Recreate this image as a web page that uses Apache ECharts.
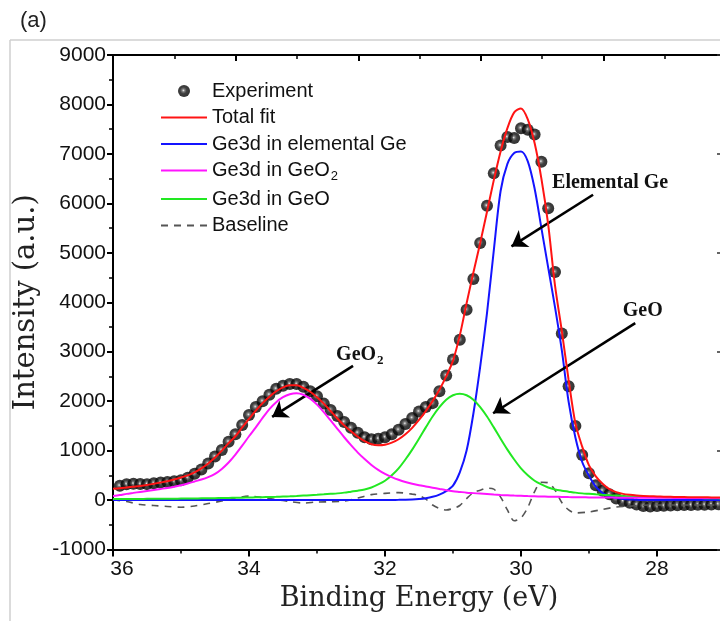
<!DOCTYPE html>
<html><head><meta charset="utf-8">
<script src="https://cdn.jsdelivr.net/npm/echarts@6.0.0/dist/echarts.min.js"></script>
<style>html,body{margin:0;padding:0;background:#fff}#c{width:720px;height:621px}</style>
</head><body><div id="c"></div>
<script>
// Binding energy grid for the fitted curves (eV)
const energy = [36.0,35.9,35.8,35.7,35.6,35.5,35.4,35.3,35.2,35.1,35.0,34.9,34.8,34.7,34.6,34.5,34.4,34.3,34.2,34.1,34.0,33.9,33.8,33.7,33.6,33.5,33.4,33.3,33.2,33.1,33.0,32.9,32.8,32.7,32.6,32.5,32.4,32.3,32.2,32.1,32.0,31.9,31.8,31.7,31.6,31.5,31.4,31.3,31.2,31.1,31.0,30.9,30.8,30.7,30.6,30.5,30.4,30.3,30.2,30.1,30.0,29.9,29.8,29.7,29.6,29.5,29.4,29.3,29.2,29.1,29.0,28.9,28.8,28.7,28.6,28.5,28.4,28.3,28.2,28.1,28.0,27.9,27.8,27.7,27.6,27.5,27.4,27.3,27.2,27.1,27.0];
const totalFit = [230,240,255,270,285,305,330,355,380,415,455,500,560,640,740,860,1000,1150,1290,1470,1640,1810,1960,2090,2200,2280,2320,2320,2270,2190,2080,1950,1800,1650,1510,1390,1280,1190,1130,1110,1120,1160,1230,1330,1460,1620,1800,2000,2230,2500,2820,3330,3980,4600,5200,5830,6470,7050,7520,7840,7920,7700,7220,6500,5570,4340,3420,2430,1550,1080,700,480,330,220,160,125,105,92,83,77,72,68,65,62,60,58,56,55,54,53,52];
const elementalGe = [0,0,0,0,0,0,0,0,0,0,0,0,0,0,0,0,0,0,0,0,0,0,0,0,0,0,0,0,0,0,0,0,0,0,0,0,0,0,0,0,0,2,4,7,12,22,38,65,110,180,290,560,1000,1750,2700,3780,5050,6250,6800,7020,7050,6850,6300,5500,4700,3900,3030,1990,1265,770,490,270,140,75,40,20,10,5,2,0,0,0,0,0,0,0,0,0,0,0,0];
const geo2 = [80,100,125,145,165,185,205,225,245,270,300,335,375,415,465,530,630,760,920,1100,1290,1470,1660,1840,1980,2080,2140,2160,2130,2050,1930,1780,1610,1440,1270,1110,960,830,710,610,530,465,410,365,330,300,275,250,225,200,180,165,150,140,130,120,110,102,96,90,85,80,76,72,69,66,63,60,58,56,54,52,51,50,49,48,47,46,46,45,45,44,44,43,43,43,42,42,42,41,41];
const geo = [20,20,21,22,23,24,25,26,27,28,29,30,32,34,36,38,40,43,46,49,52,55,58,61,65,70,75,82,90,98,106,115,125,135,150,170,190,215,255,315,390,500,640,820,1020,1240,1470,1690,1880,2030,2120,2150,2120,2030,1880,1690,1470,1240,1020,820,640,500,390,315,255,215,190,170,150,135,125,115,106,98,90,82,75,70,65,61,58,55,52,49,46,43,40,38,36,34,32];
// Experimental points
const expEnergy = [35.9,35.8,35.7,35.6,35.5,35.4,35.3,35.2,35.1,35.0,34.9,34.8,34.7,34.6,34.5,34.4,34.3,34.2,34.1,34.0,33.9,33.8,33.7,33.6,33.5,33.4,33.3,33.2,33.1,33.0,32.9,32.8,32.7,32.6,32.5,32.4,32.3,32.2,32.1,32.0,31.9,31.8,31.7,31.6,31.5,31.4,31.3,31.2,31.1,31.0,30.9,30.8,30.7,30.6,30.5,30.4,30.3,30.2,30.1,30.0,29.9,29.8,29.7,29.6,29.5,29.4,29.3,29.2,29.1,29.0,28.9,28.8,28.7,28.6,28.5,28.4,28.3,28.2,28.1,28.0,27.9,27.8,27.7,27.6,27.5,27.4,27.3,27.2,27.1];
const experiment = [290,320,330,325,322,340,355,365,380,400,450,530,620,740,880,1010,1180,1330,1520,1720,1880,2000,2130,2250,2310,2345,2345,2290,2200,2100,1950,1820,1700,1580,1460,1360,1270,1230,1240,1270,1330,1420,1540,1660,1790,1880,1960,2200,2520,2840,3240,3850,4470,5200,5950,6610,7170,7340,7320,7520,7490,7390,6840,5900,4610,3370,2300,1500,910,540,300,190,115,30,-20,-55,-90,-120,-130,-120,-115,-110,-105,-100,-100,-95,-95,-90,-85];
// Baseline (dashed)
const baseEnergy = [36.0,35.8,35.6,35.4,35.2,35.0,34.8,34.6,34.4,34.2,34.0,33.8,33.6,33.4,33.2,33.0,32.8,32.6,32.4,32.2,32.0,31.8,31.6,31.5,31.4,31.3,31.2,31.1,31.0,30.9,30.8,30.7,30.6,30.5,30.4,30.3,30.2,30.1,30.0,29.9,29.8,29.7,29.6,29.5,29.4,29.3,29.2,29.0,28.8,28.6,28.4,28.2,28.0,27.5,27.0];
const baseline = [0,-30,-90,-110,-130,-145,-120,-70,-20,40,80,50,10,-30,-60,-40,-35,-20,40,110,135,150,120,90,20,-100,-170,-200,-170,-110,30,150,200,240,220,60,-200,-420,-360,-150,170,360,350,200,-50,-200,-260,-240,-190,-140,-125,-105,-100,-100,-100];
// Names and annotations
const seriesNames = ['Experiment','Total fit','Ge3d in elemental Ge','Ge3d in GeO2','Ge3d in GeO','Baseline'];
const annotationText = ['Elemental Ge','GeO','GeO2'];
const annotationAt = [[28.69,6417],[28.21,3826],[32.37,2935]];
const arrowFrom = [[28.94,6174],[28.32,3577],[32.47,2713]];
const arrowTo = [[30.14,5128],[30.41,1755],[33.66,1680]];

const pairs = (xs, ys) => xs.map((x, i) => [x, ys[i]]);
const subFmt = s => s.replace(/O2$/, 'O{sub|2}');

const chart = echarts.init(document.getElementById('c'), null, {renderer: 'canvas'});
const axisCol = '#000';
const sphere = {type: 'radial', x: 0.45, y: 0.45, r: 0.55, colorStops: [
  {offset: 0, color: '#e8e8e8'}, {offset: 0.22, color: '#5a5a5a'}, {offset: 0.5, color: '#111'}, {offset: 1, color: '#000'}]};

const lineSeries = (name, ys, color, z, extra) => Object.assign({
  name, type: 'line', data: pairs(energy, ys), symbol: 'none', smooth: 0.3, z,
  lineStyle: {color, width: 2}, itemStyle: {color}, clip: true
}, extra || {});

chart.setOption({
  animation: false,
  backgroundColor: '#fff',
  grid: {left: 113, top: 55, right: -73, bottom: 71.5, containLabel: false, outerBoundsMode: 'none'},
  graphic: [
    {type: 'line', shape: {x1: 10, y1: 40, x2: 720, y2: 40}, style: {stroke: '#cfcfcf', lineWidth: 1.5}},
    {type: 'line', shape: {x1: 10, y1: 40, x2: 10, y2: 621}, style: {stroke: '#cfcfcf', lineWidth: 1.5}},
    {type: 'text', left: 20, top: 10, style: {text: '(a)', font: '22px "Liberation Sans"', fill: '#222'}}
  ],
  legend: {
    orient: 'vertical', left: 160, top: 81, padding: 0, itemWidth: 46, itemHeight: 12, itemGap: 6.5,
    data: seriesNames.map(n => n === 'Experiment' ? {name: n, icon: 'circle'} : {name: n, itemStyle: {opacity: 0}}),
    formatter: subFmt,
    textStyle: {fontFamily: 'Liberation Sans', fontSize: 20, color: '#111', lineHeight: 20,
      rich: {sub: {fontFamily: 'Liberation Sans', fontSize: 13, color: '#111', padding: [11, 0, 0, 1]}}}
  },
  xAxis: [{
    type: 'value', min: 26, max: 36, interval: 2, inverse: true, position: 'bottom',
    axisLine: {show: true, onZero: false, lineStyle: {color: axisCol, width: 2}},
    axisTick: {show: true, inside: false, length: 7, lineStyle: {color: axisCol, width: 2}},
    minorTick: {show: true, splitNumber: 2, length: 4, lineStyle: {color: axisCol, width: 1.5}},
    axisLabel: {fontFamily: 'Liberation Sans', fontSize: 21, color: '#111', margin: 9,
      formatter: v => v === 36 ? '{edge|36}' : String(v),
      rich: {edge: {fontFamily: 'Liberation Sans', fontSize: 21, color: '#111', padding: [0, 0, 0, 18]}}},
    splitLine: {show: false}, minorSplitLine: {show: false},
    name: 'Binding Energy (eV)', nameLocation: 'middle', nameGap: 36,
    nameTextStyle: {fontFamily: 'DejaVu Serif', fontSize: 27, color: '#222', padding: [0, 68, 0, 0]}
  }, {
    type: 'value', position: 'top', min: 0, max: 11.09, interval: 2,
    axisLine: {show: true, onZero: false, lineStyle: {color: axisCol, width: 2}},
    axisTick: {show: true, inside: true, length: 6, lineStyle: {color: axisCol, width: 2}},
    minorTick: {show: true, splitNumber: 2, length: 4, lineStyle: {color: axisCol, width: 1.5}},
    axisLabel: {show: false}, splitLine: {show: false}
  }],
  yAxis: [{
    type: 'value', min: -1000, max: 9000, interval: 1000,
    axisLine: {show: true, onZero: false, lineStyle: {color: axisCol, width: 2}},
    axisTick: {show: true, inside: false, length: 6, lineStyle: {color: axisCol, width: 2}},
    minorTick: {show: true, splitNumber: 2, length: 4, lineStyle: {color: axisCol, width: 1.5}},
    axisLabel: {fontFamily: 'Liberation Sans', fontSize: 21, color: '#111', margin: 7, formatter: v => String(v)},
    splitLine: {show: false}, minorSplitLine: {show: false},
    name: 'Intensity (a.u.)', nameLocation: 'middle', nameGap: 66, nameRotate: 90,
    nameTextStyle: {fontFamily: 'DejaVu Serif', fontSize: 29, color: '#222'}
  }, {
    type: 'value', position: 'right', offset: -71, min: -1000, max: 9000, interval: 2000,
    axisLine: {show: false, onZero: false},
    axisTick: {show: true, inside: true, length: 5, lineStyle: {color: '#333', width: 1.5}},
    axisLabel: {show: false}, splitLine: {show: false}
  }],
  series: [
    {name: 'Experiment', type: 'scatter', data: pairs(expEnergy, experiment), symbol: 'circle', symbolSize: 12, z: 2,
     itemStyle: {color: sphere}},
    lineSeries('Baseline', baseline, '#555', 3, {data: pairs(baseEnergy, baseline),
      lineStyle: {color: '#555', width: 1.6, type: [7, 6]}}),
    lineSeries('Ge3d in elemental Ge', elementalGe, '#1414ff', 4),
    lineSeries('Ge3d in GeO', geo, '#22e822', 5),
    lineSeries('Ge3d in GeO2', geo2, '#ff14ff', 6),
    lineSeries('Total fit', totalFit, '#ff1414', 7),
    {name: 'annotations', type: 'line', data: [], z: 8, silent: true,
     markLine: {silent: true, symbol: ['none', 'arrow'], symbolSize: 15, precision: 3,
       lineStyle: {color: '#000', width: 2.6, type: 'solid'}, label: {show: false},
       data: arrowFrom.map((f, i) => [{coord: f}, {coord: arrowTo[i]}])},
     markPoint: {silent: true, symbol: 'circle', symbolSize: 1, itemStyle: {color: 'rgba(0,0,0,0)'},
       label: {show: true, position: 'inside', fontFamily: 'Liberation Serif', fontWeight: 'bold', fontSize: 20, color: '#111',
         formatter: p => subFmt(p.name),
         rich: {sub: {fontFamily: 'Liberation Serif', fontWeight: 'bold', fontSize: 13, color: '#111', padding: [12, 0, 0, 1]}}},
       data: annotationText.map((t, i) => ({name: t, coord: annotationAt[i]}))}}
  ]
});
</script>
</body></html>
